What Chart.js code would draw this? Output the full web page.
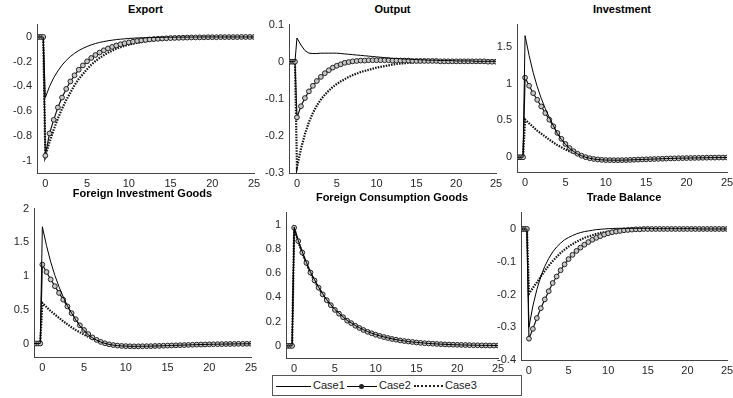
<!DOCTYPE html>
<html>
<head>
<meta charset="utf-8">
<script src="https://cdn.jsdelivr.net/npm/chart.js@4"></script>
<style>
  body { margin:0; width:733px; height:398px; background:#fff; overflow:hidden; position:relative;
         font-family:"Liberation Sans", Arial, sans-serif; }
  canvas { position:absolute; }
  .ttl { position:absolute; text-align:center; font-weight:bold; font-size:11px; line-height:13px; color:#000; }
  #legend { position:absolute; left:272px; top:375px; width:248px; height:19px; border:1px solid #555; background:#fff; font-size:11px; color:#222; }
  #legend span { position:absolute; top:3px; line-height:13px; }
  #legend i { position:absolute; top:10px; height:0; }
</style>
</head>
<body>

<script>
// time axis (periods), same for every panel
const time = [-1,-0.75,-0.5,-0.25,0,0.5,1,1.5,2,2.5,3,3.5,4,4.5,5,5.5,6,6.5,7,7.5,8,8.5,9,9.5,10,10.5,11,11.5,12,12.5,13,13.5,14,14.5,15,15.5,16,16.5,17,17.5,18,18.5,19,19.5,20,20.5,21,21.5,22,22.5,23,23.5,24,24.5,25]
const xTicks = [0,5,10,15,20,25]

// Export
const export1 = [0,0,0,0,
  -0.49,-0.40,-0.33,-0.275,-0.228,-0.19,-0.158,-0.132,-0.11,-0.092,
  -0.077,-0.064,-0.053,-0.044,-0.037,-0.031,-0.026,-0.021,-0.018,-0.015,
  -0.012,-0.010,-0.008,-0.007,-0.006,-0.005,-0.004,-0.003,-0.003,-0.002,
  -0.002,-0.002,-0.001,-0.001,-0.001,-0.001,-0.001,0,0,0,
  0,0,0,0,0,0,0,0,0,0, 0]
const export2 = [0,0,0,0,
  -0.96,-0.78,-0.67,-0.57,-0.49,-0.42,-0.36,-0.31,-0.265,-0.23,
  -0.197,-0.17,-0.146,-0.126,-0.108,-0.093,-0.08,-0.069,-0.059,-0.051,
  -0.044,-0.038,-0.032,-0.028,-0.024,-0.02,-0.017,-0.015,-0.013,-0.011,
  -0.009,-0.008,-0.007,-0.006,-0.005,-0.004,-0.004,-0.003,-0.003,-0.002,
  -0.002,-0.002,-0.001,-0.001,-0.001,-0.001,-0.001,0,0,0, 0]
const export3 = [0,0,0,0,
  -0.96,-0.85,-0.75,-0.66,-0.58,-0.51,-0.45,-0.39,-0.34,-0.30,
  -0.26,-0.225,-0.195,-0.17,-0.148,-0.128,-0.111,-0.096,-0.083,-0.072,
  -0.062,-0.054,-0.047,-0.041,-0.035,-0.030,-0.026,-0.023,-0.020,-0.017,
  -0.015,-0.013,-0.011,-0.010,-0.008,-0.007,-0.006,-0.005,-0.005,-0.004,
  -0.003,-0.003,-0.003,-0.002,-0.002,-0.002,-0.001,-0.001,-0.001,-0.001, -0.001]

// Output
const output1 = [0,0,0,0,
  0.064,0.045,0.030,0.023,0.022,0.022,0.023,0.023,0.023,0.023,
  0.023,0.022,0.021,0.020,0.019,0.018,0.017,0.016,0.015,0.014,
  0.013,0.012,0.011,0.010,0.009,0.009,0.008,0.007,0.007,0.006,
  0.006,0.005,0.005,0.004,0.004,0.004,0.003,0.003,0.003,0.003,
  0.002,0.002,0.002,0.002,0.002,0.001,0.001,0.001,0.001,0.001, 0.001]
const output2 = [0,0,0,0,
  -0.15,-0.12,-0.098,-0.08,-0.065,-0.052,-0.041,-0.031,-0.023,-0.016,
  -0.011,-0.007,-0.003,-0.001,0.001,0.002,0.003,0.003,0.004,0.004,
  0.004,0.004,0.004,0.004,0.003,0.003,0.003,0.003,0.003,0.002,
  0.002,0.002,0.002,0.002,0.002,0.002,0.001,0.001,0.001,0.001,
  0.001,0.001,0.001,0.001,0.001,0.001,0.001,0.001,0,0, 0]
const output3 = [0,0,0,0,
  -0.285,-0.235,-0.195,-0.163,-0.138,-0.118,-0.102,-0.089,-0.078,-0.068,
  -0.060,-0.053,-0.047,-0.041,-0.036,-0.032,-0.028,-0.025,-0.022,-0.019,
  -0.016,-0.014,-0.012,-0.010,-0.008,-0.006,-0.005,-0.004,-0.003,-0.002,
  -0.001,-0.001,0,0,0,0,0,0,0,0,
  0,0,0,0,0,0,0,0,0,0, 0]

// Investment
const invest1 = [0,0,0,0,
  1.65,1.38,1.15,0.96,0.80,0.66,0.54,0.43,0.32,0.24,
  0.175,0.12,0.08,0.045,0.02,0.0,-0.014,-0.024,-0.031,-0.035,
  -0.038,-0.039,-0.04,-0.04,-0.039,-0.038,-0.036,-0.034,-0.032,-0.030,
  -0.028,-0.026,-0.024,-0.022,-0.020,-0.018,-0.016,-0.015,-0.013,-0.012,
  -0.011,-0.010,-0.009,-0.008,-0.007,-0.006,-0.005,-0.005,-0.004,-0.004, -0.003]
const invest2 = [0,0,0,0,
  1.08,0.97,0.87,0.78,0.69,0.60,0.51,0.42,0.33,0.25,
  0.18,0.125,0.082,0.047,0.021,0.001,-0.013,-0.023,-0.030,-0.035,
  -0.038,-0.039,-0.04,-0.04,-0.039,-0.038,-0.036,-0.034,-0.032,-0.030,
  -0.028,-0.026,-0.024,-0.022,-0.020,-0.018,-0.016,-0.015,-0.013,-0.012,
  -0.011,-0.010,-0.009,-0.008,-0.007,-0.006,-0.005,-0.005,-0.004,-0.004, -0.003]
const invest3 = [0,0,0,0,
  0.51,0.46,0.41,0.36,0.32,0.28,0.24,0.20,0.165,0.135,
  0.105,0.08,0.058,0.038,0.02,0.005,-0.007,-0.016,-0.022,-0.026,
  -0.029,-0.031,-0.032,-0.032,-0.031,-0.030,-0.029,-0.028,-0.026,-0.025,
  -0.023,-0.021,-0.020,-0.018,-0.017,-0.015,-0.014,-0.012,-0.011,-0.010,
  -0.009,-0.008,-0.007,-0.007,-0.006,-0.005,-0.005,-0.004,-0.004,-0.003, -0.003]

// Foreign Investment Goods
const fInvest1 = [0,0,0,0,
  1.73,1.45,1.21,1.01,0.84,0.69,0.56,0.45,0.35,0.26,
  0.19,0.13,0.085,0.05,0.022,0.002,-0.013,-0.024,-0.031,-0.036,
  -0.039,-0.041,-0.042,-0.042,-0.041,-0.040,-0.039,-0.037,-0.035,-0.033,
  -0.031,-0.029,-0.027,-0.025,-0.023,-0.021,-0.019,-0.017,-0.015,-0.014,
  -0.012,-0.011,-0.010,-0.009,-0.008,-0.007,-0.006,-0.005,-0.005,-0.004, -0.004]
const fInvest2 = [0,0,0,0,
  1.17,1.06,0.95,0.85,0.75,0.65,0.55,0.45,0.36,0.27,
  0.20,0.14,0.09,0.053,0.024,0.003,-0.012,-0.023,-0.031,-0.036,
  -0.039,-0.041,-0.042,-0.042,-0.041,-0.040,-0.039,-0.037,-0.035,-0.033,
  -0.031,-0.029,-0.027,-0.025,-0.023,-0.021,-0.019,-0.017,-0.015,-0.014,
  -0.012,-0.011,-0.010,-0.009,-0.008,-0.007,-0.006,-0.005,-0.005,-0.004, -0.004]
const fInvest3 = [0,0,0,0,
  0.60,0.54,0.48,0.43,0.38,0.33,0.285,0.24,0.20,0.165,
  0.13,0.10,0.072,0.047,0.026,0.009,-0.005,-0.015,-0.022,-0.027,
  -0.031,-0.033,-0.034,-0.034,-0.034,-0.033,-0.032,-0.030,-0.029,-0.027,
  -0.025,-0.023,-0.022,-0.020,-0.018,-0.017,-0.015,-0.014,-0.012,-0.011,
  -0.010,-0.009,-0.008,-0.007,-0.007,-0.006,-0.005,-0.005,-0.004,-0.004, -0.003]

// Foreign Consumption Goods
const fCons1 = [0,0,0,0,
  0.98,0.87,0.775,0.69,0.61,0.545,0.485,0.43,0.38,0.34,
  0.30,0.27,0.24,0.21,0.19,0.168,0.15,0.133,0.118,0.105,
  0.093,0.083,0.074,0.066,0.058,0.052,0.046,0.041,0.036,0.032,
  0.029,0.026,0.023,0.020,0.018,0.016,0.014,0.013,0.011,0.010,
  0.009,0.008,0.007,0.006,0.006,0.005,0.004,0.004,0.004,0.003, 0.003]
const fCons2 = [0,0,0,0,
  0.975,0.865,0.77,0.685,0.605,0.54,0.48,0.425,0.377,0.336,
  0.297,0.266,0.237,0.208,0.188,0.166,0.148,0.131,0.116,0.104,
  0.092,0.082,0.073,0.065,0.057,0.051,0.045,0.040,0.036,0.032,
  0.028,0.025,0.022,0.020,0.018,0.016,0.014,0.012,0.011,0.010,
  0.009,0.008,0.007,0.006,0.005,0.005,0.004,0.004,0.003,0.003, 0.003]
const fCons3 = [0,0,0,0,
  0.97,0.86,0.765,0.68,0.60,0.535,0.476,0.422,0.374,0.333,
  0.295,0.264,0.235,0.207,0.186,0.165,0.147,0.130,0.115,0.103,
  0.091,0.081,0.072,0.064,0.057,0.050,0.045,0.040,0.035,0.031,
  0.028,0.025,0.022,0.020,0.017,0.015,0.014,0.012,0.011,0.010,
  0.009,0.008,0.007,0.006,0.005,0.005,0.004,0.004,0.003,0.003, 0.003]

// Trade Balance
const trade1 = [0,0,0,0,
  -0.30,-0.235,-0.185,-0.145,-0.114,-0.09,-0.07,-0.055,-0.043,-0.033,
  -0.026,-0.02,-0.015,-0.011,-0.008,-0.006,-0.004,-0.002,-0.001,0.0,
  0.001,0.001,0.002,0.002,0.002,0.002,0.002,0.002,0.002,0.002,
  0.002,0.001,0.001,0.001,0.001,0.001,0.001,0.001,0.001,0.001,
  0.001,0.001,0.001,0,0,0,0,0,0,0, 0]
const trade2 = [0,0,0,0,
  -0.335,-0.305,-0.272,-0.242,-0.215,-0.19,-0.165,-0.145,-0.126,-0.108,
  -0.092,-0.079,-0.067,-0.057,-0.048,-0.04,-0.033,-0.027,-0.022,-0.017,
  -0.013,-0.01,-0.008,-0.006,-0.004,-0.003,-0.002,-0.001,-0.001,0,
  0,0,0,0,0,0,0,0,0,0,
  0,0,0,0,0,0,0,0,0,0, 0]
const trade3 = [0,0,0,0,
  -0.198,-0.18,-0.163,-0.145,-0.128,-0.112,-0.098,-0.085,-0.073,-0.063,
  -0.054,-0.046,-0.039,-0.033,-0.027,-0.023,-0.019,-0.015,-0.012,-0.01,
  -0.008,-0.006,-0.005,-0.004,-0.003,-0.002,-0.002,-0.001,-0.001,0,
  0,0,0,0,0,0,0,0,0,0,
  0,0,0,0,0,0,0,0,0,0, 0]

Chart.defaults.font.family = '"Liberation Sans", Arial, sans-serif'
Chart.defaults.font.size = 11
Chart.defaults.color = '#262626'

function pts(vals) {
  return time.map((t, i) => ({ x: t, y: vals[i] }))
}

// one subplot: plot area at (left, top) with size w x h
function panel(title, left, top, w, h, yMin, yMax, yTicks, c1, c2, c3) {
  const t = document.createElement('div')
  t.className = 'ttl'
  t.style.left = left + 'px'
  t.style.width = w + 'px'
  t.style.top = (top - 18) + 'px'
  t.textContent = title
  document.body.appendChild(t)

  const cv = document.createElement('canvas')
  cv.style.left = (left - 36) + 'px'
  cv.style.top = (top - 8) + 'px'
  cv.width = w + 48
  cv.height = h + 28
  cv.style.width = cv.width + 'px'
  cv.style.height = cv.height + 'px'
  document.body.appendChild(cv)

  new Chart(cv, {
    type: 'line',
    data: {
      datasets: [
        { label: 'Case1', data: pts(c1), borderColor: '#000', borderWidth: 1, pointRadius: 0 },
        { label: 'Case2', data: pts(c2), borderColor: '#111', borderWidth: 1.2,
          pointRadius: 2.4, pointBorderWidth: 1, pointBorderColor: '#222', pointBackgroundColor: '#c8c8c8' },
        { label: 'Case3', data: pts(c3), borderColor: '#111', borderWidth: 2.2,
          borderDash: [1.5, 1.2], pointRadius: 0 }
      ]
    },
    options: {
      responsive: false,
      animation: false,
      layout: { padding: { top: 8, right: 12, left: 0, bottom: 0 } },
      plugins: { legend: { display: false }, tooltip: { enabled: false } },
      scales: {
        x: {
          type: 'linear', min: -1, max: 25,
          grid: { display: false, drawTicks: false },
          border: { display: true, color: '#444', width: 1 },
          ticks: { padding: 4, maxRotation: 0 },
          afterBuildTicks: s => { s.ticks = xTicks.map(v => ({ value: v })) },
          afterFit: s => { s.height = 20 }
        },
        y: {
          min: yMin, max: yMax,
          grid: { display: false, drawTicks: false },
          border: { display: true, color: '#444', width: 1 },
          ticks: { padding: 5, callback: v => String(Math.round(v * 100) / 100) },
          afterBuildTicks: s => { s.ticks = yTicks.map(v => ({ value: v })) },
          afterFit: s => { s.width = 36 }
        }
      }
    }
  })
}

panel('Export', 37, 21, 217, 152, -1.1, 0.1, [-1,-0.8,-0.6,-0.4,-0.2,0], export1, export2, export3)
panel('Output', 289, 21, 207, 152, -0.3, 0.1, [-0.3,-0.2,-0.1,0,0.1], output1, output2, output3)
panel('Investment', 517, 21, 210, 151, -0.2, 1.8, [0,0.5,1,1.5], invest1, invest2, invest3)
panel('Foreign Investment Goods', 34, 205, 217, 152, -0.2, 2, [0,0.5,1,1.5,2], fInvest1, fInvest2, fInvest3)
panel('Foreign Consumption Goods', 286, 209, 212, 149, -0.1, 1.1, [0,0.2,0.4,0.6,0.8,1], fCons1, fCons2, fCons3)
panel('Trade Balance', 521, 209, 206, 151, -0.4, 0.05, [-0.4,-0.3,-0.2,-0.1,0], trade1, trade2, trade3)
</script>

<div id="legend">
  <i style="left:3px;width:35px;border-top:1px solid #000"></i>
  <span style="left:40px">Case1</span>
  <i style="left:74px;width:30px;border-top:1px solid #000"></i>
  <i style="left:86px;top:8px;width:5px;height:5px;border-radius:50%;background:#222"></i>
  <span style="left:106px">Case2</span>
  <i style="left:141px;width:29px;border-top:2px dotted #222;top:9px"></i>
  <span style="left:172px">Case3</span>
</div>
</body>
</html>
